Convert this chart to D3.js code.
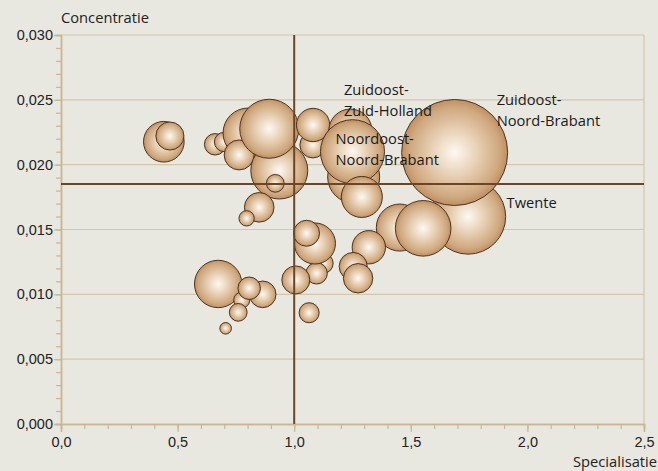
<!DOCTYPE html>
<html>
<head>
<meta charset="utf-8">
<script src="https://cdn.jsdelivr.net/npm/d3@7"></script>
<style>
  body { margin: 0; background: #e9e8e0; }
  svg { display: block; font-family: "Open Sans", sans-serif; }
</style>
</head>
<body>
<svg id="chart" width="658" height="471"></svg>
<script>
// regio's (alleen de gelabelde hebben een naam)
var regions = ["", "", "", "", "", "", "", "", "", "", "", "", "",
    "Zuidoost-Zuid-Holland", "", "Noordoost-Noord-Brabant", "", "Twente", "Zuidoost-Noord-Brabant",
    "", "", "", "", "", "", "", "", "", "", "", "", "", "", "", "", ""];
var specialisatie = [0.441, 0.467, 0.661, 0.699, 0.802, 0.764, 0.936, 0.893, 0.919, 0.850, 0.796,
    1.080, 1.081, 1.241, 1.255, 1.250, 1.290, 1.746, 1.688, 1.453, 1.553, 1.320, 1.253, 1.274,
    1.124, 1.096, 1.089, 1.053, 1.007, 1.064, 0.674, 0.775, 0.865, 0.807, 0.760, 0.706];
var concentratie = [0.02177, 0.02221, 0.02157, 0.02175, 0.02244, 0.02075, 0.01955, 0.02277, 0.01856, 0.01671, 0.01586,
    0.02152, 0.02306, 0.02263, 0.01905, 0.02100, 0.01751, 0.01599, 0.02094, 0.01515, 0.01509, 0.01363, 0.01215, 0.01124,
    0.01239, 0.01162, 0.01392, 0.01471, 0.01111, 0.00858, 0.01080, 0.00956, 0.01000, 0.01047, 0.00861, 0.00738];
var omvang = [147, 70, 41, 33, 222, 80, 289, 310, 28, 78, 21,
    60, 99, 165, 241, 365, 150, 501, 1000, 197, 275, 99, 70, 77,
    36, 41, 150, 60, 70, 36, 200, 23, 63, 45, 28, 12];

var xTicks = [0, 0.5, 1, 1.5, 2, 2.5];
var yTicks = [0, 0.005, 0.01, 0.015, 0.02, 0.025, 0.03];
var refX = 1.0, refY = 0.0185;

var fmtX = v => d3.format(".1f")(v).replace(".", ",");
var fmtY = v => d3.format(".3f")(v).replace(".", ",");

// label plaatsing t.o.v. de bubbel (px)
var labelOffset = {
    "Zuidoost-Zuid-Holland": [-6.5, -35.5],
    "Noordoost-Noord-Brabant": [-17, -7.7],
    "Zuidoost-Noord-Brabant": [42, -47],
    "Twente": [38.4, -8.4]
};

var svg = d3.select("#chart"),
    margin = { top: 35, right: 14, bottom: 47, left: 61 },
    width = 658 - margin.left - margin.right,
    height = 471 - margin.top - margin.bottom;

var g = svg.append("g").attr("transform", `translate(${margin.left},${margin.top})`);

var x = d3.scaleLinear().domain([0, 2.5]).range([0, width]);
var y = d3.scaleLinear().domain([0, 0.03]).range([height, 0]);
var r = d3.scaleSqrt().domain([0, 1000]).range([0, 53]);

var defs = svg.append("defs");
var grad = defs.append("radialGradient").attr("id", "bol");
grad.append("stop").attr("offset", "0%").attr("stop-color", "#fdf9f3");
grad.append("stop").attr("offset", "45%").attr("stop-color", "#e7cfb3");
grad.append("stop").attr("offset", "85%").attr("stop-color", "#cfa87e");
grad.append("stop").attr("offset", "100%").attr("stop-color", "#bf8f62");

// gridlines
g.selectAll(".grid").data(yTicks.slice(1))
    .enter().append("line")
    .attr("x1", 0).attr("x2", width)
    .attr("y1", d => y(d)).attr("y2", d => y(d))
    .attr("stroke", "#d3c6aa").attr("stroke-width", 1.2);
g.append("line").attr("x1", width).attr("x2", width).attr("y1", 0).attr("y2", height)
    .attr("stroke", "#d3c6aa").attr("stroke-width", 1.2);

// axes
var xAxisMinor = d3.axisBottom(x).tickValues(d3.range(0, 2.51, 0.1)).tickSize(5).tickFormat("");
var xAxis = d3.axisBottom(x).tickValues(xTicks).tickSize(8).tickPadding(5).tickFormat(fmtX);
var yAxisMinor = d3.axisLeft(y).tickValues(d3.range(0, 0.0301, 0.001)).tickSize(5).tickFormat("");
var yAxis = d3.axisLeft(y).tickValues(yTicks).tickSize(7).tickPadding(1).tickFormat(fmtY);

function styleAxis(sel) {
    sel.select(".domain").attr("stroke", "#c9b792").attr("stroke-width", 1.5);
    sel.selectAll(".tick line").attr("stroke", "#c9b792").attr("stroke-width", 1.2);
    sel.selectAll(".tick text").attr("fill", "#222").style("font-size", "14.5px");
}

g.append("g").attr("transform", `translate(0,${height})`).call(xAxisMinor).call(styleAxis);
g.append("g").attr("transform", `translate(0,${height})`).call(xAxis).call(styleAxis);
g.append("g").call(yAxisMinor).call(styleAxis);
g.append("g").call(yAxis).call(styleAxis);

// bubbels
var bubbles = regions.map((name, i) => ({ name: name, x: specialisatie[i], y: concentratie[i], v: omvang[i] }));

g.selectAll(".bubble").data(bubbles)
    .enter().append("circle")
    .attr("class", "bubble")
    .attr("cx", d => x(d.x))
    .attr("cy", d => y(d.y))
    .attr("r", d => r(d.v))
    .attr("fill", "url(#bol)")
    .attr("stroke", "#4b3422")
    .attr("stroke-width", 1);

// referentielijnen
g.append("line").attr("x1", x(refX)).attr("x2", x(refX)).attr("y1", 0).attr("y2", height)
    .attr("stroke", "#6b4526").attr("stroke-width", 2);
g.append("line").attr("x1", 0).attr("x2", width).attr("y1", y(refY)).attr("y2", y(refY))
    .attr("stroke", "#6b4526").attr("stroke-width", 2);

// labels
bubbles.filter(d => d.name).forEach(d => {
    var off = labelOffset[d.name];
    var parts = d.name.split("-");
    var lines = parts.length > 1 ? [parts[0] + "-", parts.slice(1).join("-")] : [d.name];
    var t = g.append("text")
        .attr("x", x(d.x) + off[0])
        .attr("y", y(d.y) + off[1])
        .attr("fill", "#1a1a1a")
        .style("font-size", "14.7px");
    lines.forEach((l, j) => {
        t.append("tspan").attr("x", x(d.x) + off[0]).attr("dy", j === 0 ? 0 : 20.5).text(l);
    });
});

// as-titels
svg.append("text").attr("x", 61).attr("y", 23).attr("fill", "#222")
    .style("font-size", "14.7px").text("Concentratie");
svg.append("text").attr("x", 657).attr("y", 467).attr("text-anchor", "end").attr("fill", "#222")
    .style("font-size", "14.7px").text("Specialisatie");
</script>
</body>
</html>
